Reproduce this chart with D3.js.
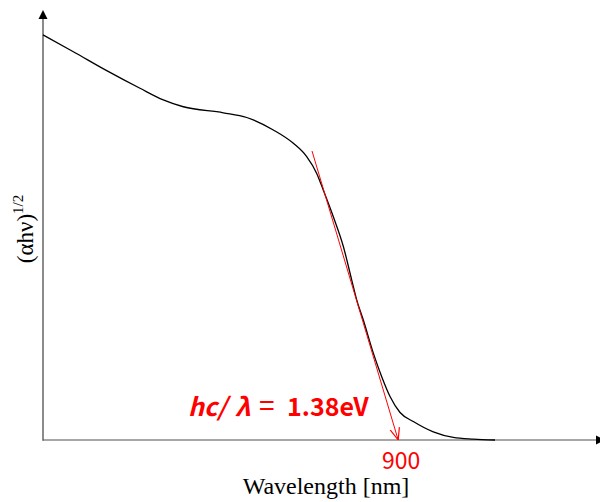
<!DOCTYPE html>
<html>
<head>
<meta charset="utf-8">
<script src="https://cdn.jsdelivr.net/npm/d3@7"></script>
<style>
  html, body { margin: 0; padding: 0; background: #fff; }
  svg { display: block; }
</style>
</head>
<body>
<svg id="chart" width="600" height="502"></svg>
<script>
// Absorption curve: wavelength (nm) and (αhν)^1/2 in arbitrary units
const wavelengths = [400, 442.7, 489.7, 536.5, 569.3, 597.5, 653.8, 686.8, 724.2, 752.4,
  771.2, 785.3, 794.6, 808.7, 822.8, 834.6, 841.6, 850.9, 865.0, 876.8,
  888.5, 902.6, 921.3, 949.4, 977.6, 1005.7, 1036.3];
const absorbance = [0.942, 0.903, 0.859, 0.818, 0.791, 0.775, 0.761, 0.750, 0.721, 0.690,
  0.659, 0.620, 0.581, 0.519, 0.450, 0.372, 0.326, 0.279, 0.202, 0.147,
  0.101, 0.064, 0.043, 0.019, 0.006, 0.002, 0.0];

// Linear fit of the absorption edge, extrapolated to the baseline
const tangentStart = [778.7, 0.672];
const edgeWavelength = 900;
const edgeTicks = [900];
const bandGapEV = 1.38;

const xLabel = "Wavelength [nm]";

const svg = d3.select("#chart");

const x = d3.scaleLinear().domain([400, 1170]).range([43, 590]);
const y = d3.scaleLinear().domain([0, 1]).range([440, 10]);

const defs = svg.append("defs");
defs.append("marker")
  .attr("id", "open-arrow")
  .attr("viewBox", "0 0 10 10")
  .attr("refX", 10).attr("refY", 5)
  .attr("markerWidth", 12).attr("markerHeight", 12)
  .attr("markerUnits", "userSpaceOnUse")
  .attr("orient", "auto")
  .append("path")
  .attr("d", "M0,1 L10,5 L0,9")
  .attr("fill", "none")
  .attr("stroke", "#ff0000")
  .attr("stroke-width", 1);

// Axes
const x0 = x.range()[0], yBase = y(0);
svg.append("line")
  .attr("x1", x0).attr("y1", yBase).attr("x2", 597).attr("y2", yBase)
  .attr("stroke", "#8a8a8a").attr("stroke-width", 1.6);
svg.append("line")
  .attr("x1", x0).attr("y1", yBase + 0.8).attr("x2", x0).attr("y2", 18)
  .attr("stroke", "#5a5a5a").attr("stroke-width", 1.4);
svg.append("path")
  .attr("d", `M${x0},10 L${x0 + 4.5},19 L${x0 - 4.5},19 Z`)
  .attr("fill", "#000");
svg.append("path")
  .attr("d", `M605,${yBase} L596,${yBase - 4.5} L596,${yBase + 4.5} Z`)
  .attr("fill", "#000");

// Absorption curve
const pts = wavelengths.map((w, i) => [w, absorbance[i]]);
svg.append("path")
  .datum(pts)
  .attr("fill", "none")
  .attr("stroke", "#000")
  .attr("stroke-width", 1.3)
  .attr("d", d3.line().x(d => x(d[0])).y(d => y(d[1])).curve(d3.curveMonotoneX));

// Tangent to the edge
svg.append("line")
  .attr("x1", x(tangentStart[0])).attr("y1", y(tangentStart[1]))
  .attr("x2", x(edgeWavelength)).attr("y2", y(0))
  .attr("stroke", "#ff0000").attr("stroke-width", 1)
  .attr("marker-end", "url(#open-arrow)");

// Edge wavelength label
svg.selectAll("text.edge")
  .data(edgeTicks)
  .join("text")
  .attr("class", "edge")
  .attr("x", d => x(d) + 3)
  .attr("y", 469)
  .attr("text-anchor", "middle")
  .attr("font-family", "'Noto Sans CJK JP', 'Noto Sans', sans-serif")
  .attr("font-size", 23)
  .attr("fill", "#ff0000")
  .text(d => d);

// Band gap formula
const formula = svg.append("text")
  .attr("y", 416)
  .attr("font-family", "'Noto Sans CJK JP', 'Noto Sans', sans-serif")
  .attr("font-size", 25)
  .attr("font-weight", "bold")
  .attr("fill", "#ff0000");
formula.append("tspan").attr("x", 188).attr("font-style", "italic").text("hc/");
formula.append("tspan").attr("x", 235).attr("font-style", "italic").text("λ");
formula.append("tspan").attr("x", 259).attr("font-weight", "normal").attr("font-size", 28).text("=");
formula.append("tspan").attr("x", 287).text(bandGapEV.toFixed(2) + "eV");

// Axis titles
svg.append("text")
  .attr("x", 326).attr("y", 494)
  .attr("text-anchor", "middle")
  .attr("font-family", "'Liberation Serif', 'Times New Roman', serif")
  .attr("font-size", 24)
  .attr("fill", "#000")
  .text(xLabel);

const yTitle = svg.append("text")
  .attr("transform", "translate(33,229) rotate(-90)")
  .attr("text-anchor", "middle")
  .attr("font-family", "'Liberation Serif', 'Times New Roman', serif")
  .attr("font-size", 23)
  .attr("fill", "#000");
yTitle.append("tspan").text("(αhν)");
yTitle.append("tspan").attr("font-size", 15).attr("dy", -10).text("1/2");
</script>
</body>
</html>
